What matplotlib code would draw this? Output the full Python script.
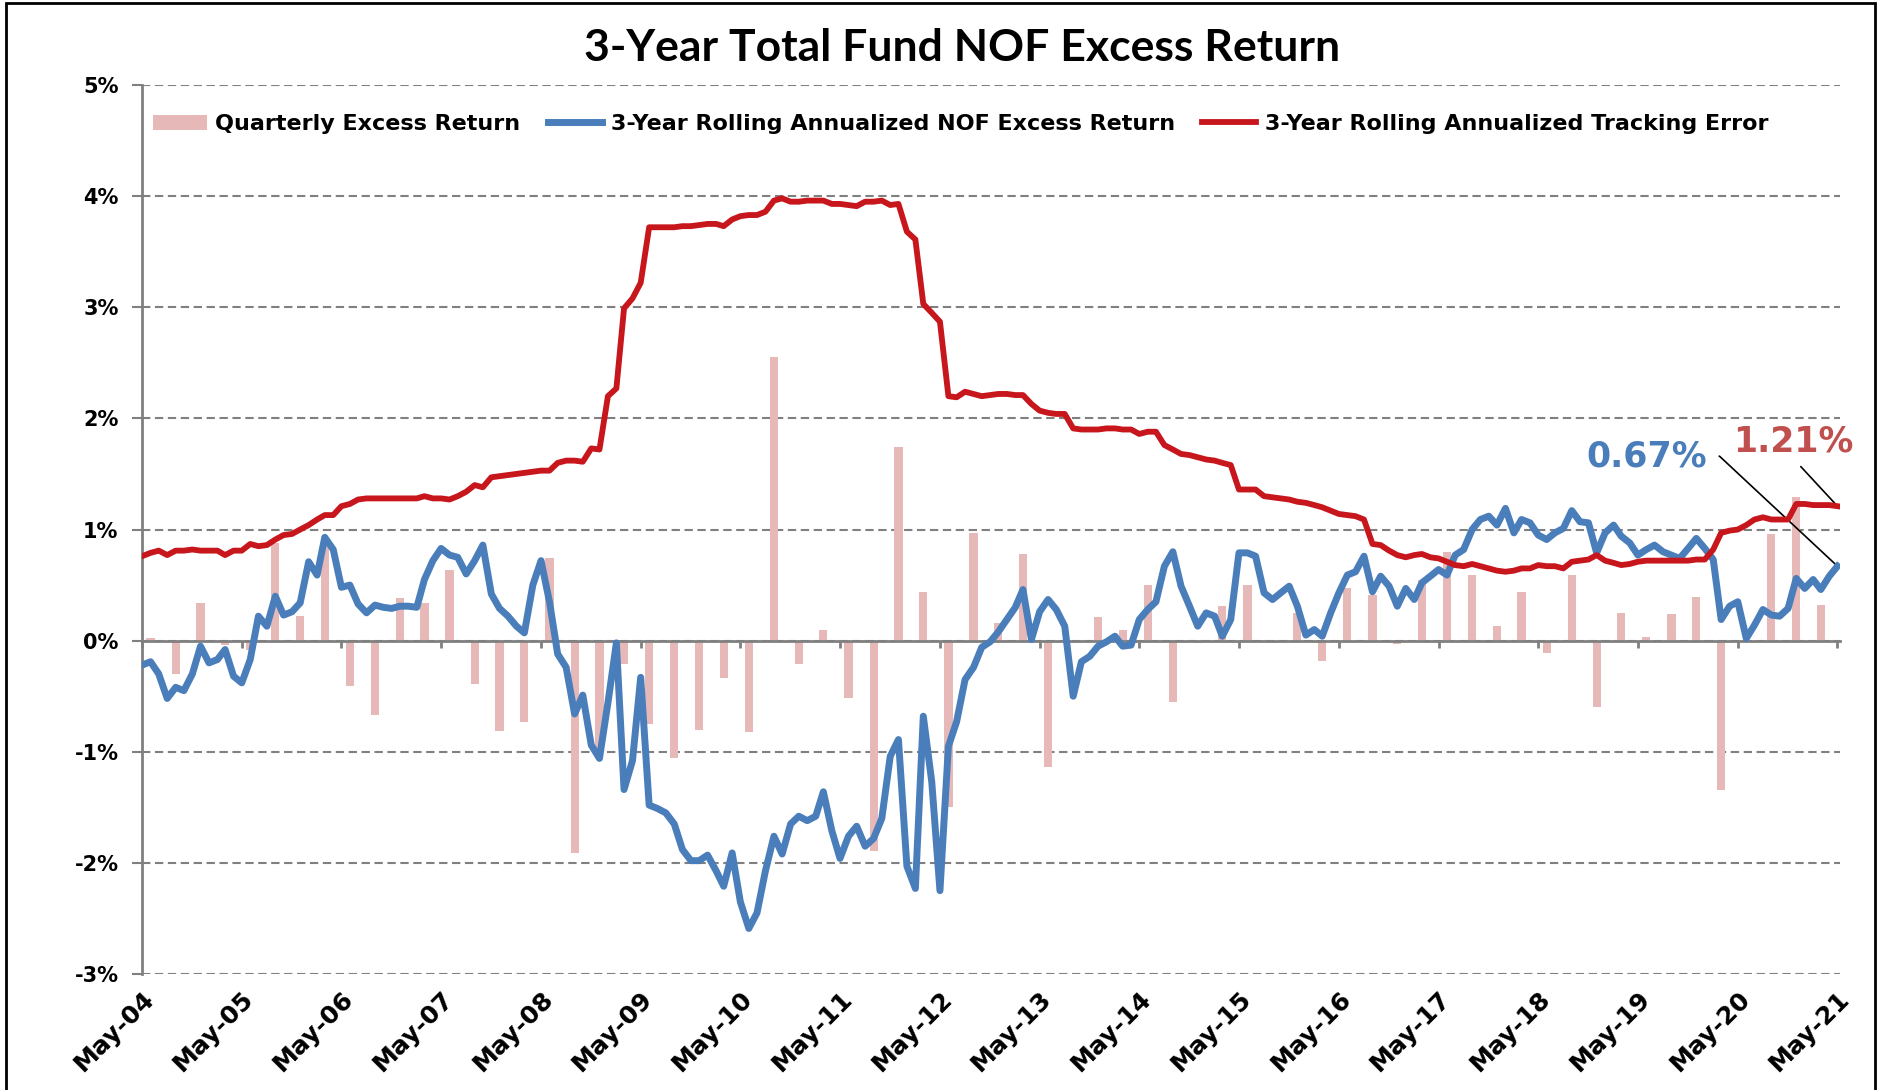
import matplotlib
matplotlib.use("Agg")
import matplotlib.pyplot as plt
from matplotlib.patches import Rectangle
import pandas as pd

# ---- data (percent), monthly May-04 .. May-21 ----
start_month = "2004-05-01"

rolling_excess = [
    -0.22, -0.19, -0.30, -0.52, -0.42, -0.45, -0.30, -0.05, -0.20, -0.17,
    -0.08, -0.32, -0.38, -0.17, 0.22, 0.13, 0.40, 0.23, 0.26, 0.34,
    0.71, 0.59, 0.93, 0.82, 0.48, 0.50, 0.33, 0.25, 0.32, 0.30,
    0.29, 0.31, 0.31, 0.30, 0.55, 0.72, 0.83, 0.77, 0.75, 0.60,
    0.72, 0.86, 0.42, 0.29, 0.22, 0.13, 0.07, 0.50, 0.72, 0.35,
    -0.12, -0.24, -0.66, -0.49, -0.94, -1.06, -0.56, -0.02, -1.34, -1.08,
    -0.33, -1.48, -1.51, -1.55, -1.65, -1.88, -1.98, -1.98, -1.93, -2.07,
    -2.21, -1.91, -2.35, -2.59, -2.45, -2.07, -1.76, -1.92, -1.65, -1.58,
    -1.62, -1.58, -1.36, -1.71, -1.96, -1.76, -1.67, -1.85, -1.78, -1.60,
    -1.04, -0.89, -2.03, -2.23, -0.68, -1.27, -2.25, -0.95, -0.73, -0.35,
    -0.24, -0.06, -0.01, 0.08, 0.19, 0.30, 0.46, 0.01, 0.26, 0.37,
    0.28, 0.13, -0.50, -0.19, -0.14, -0.05, -0.01, 0.04, -0.05, -0.04,
    0.19, 0.28, 0.35, 0.67, 0.80, 0.49, 0.31, 0.13, 0.25, 0.22,
    0.04, 0.19, 0.79, 0.79, 0.76, 0.43, 0.37, 0.43, 0.49, 0.31,
    0.05, 0.10, 0.04, 0.25, 0.43, 0.59, 0.62, 0.76, 0.44, 0.58,
    0.49, 0.31, 0.47, 0.37, 0.52, 0.58, 0.64, 0.59, 0.77, 0.82,
    1.00, 1.09, 1.12, 1.04, 1.19, 0.97, 1.09, 1.06, 0.95, 0.91,
    0.97, 1.01, 1.17, 1.07, 1.06, 0.79, 0.97, 1.04, 0.94, 0.88,
    0.77, 0.82, 0.86, 0.80, 0.77, 0.74, 0.83, 0.92, 0.83, 0.73,
    0.19, 0.31, 0.35, 0.02, 0.14, 0.28, 0.23, 0.22, 0.29, 0.56,
    0.47, 0.55, 0.46, 0.58, 0.67,
]

tracking_error = [
    0.76, 0.79, 0.81, 0.77, 0.81, 0.81, 0.82, 0.81, 0.81, 0.81,
    0.77, 0.81, 0.81, 0.87, 0.85, 0.86, 0.91, 0.95, 0.96, 1.00,
    1.04, 1.09, 1.13, 1.13, 1.21, 1.23, 1.27, 1.28, 1.28, 1.28,
    1.28, 1.28, 1.28, 1.28, 1.30, 1.28, 1.28, 1.27, 1.30, 1.34,
    1.40, 1.38, 1.47, 1.48, 1.49, 1.50, 1.51, 1.52, 1.53, 1.53,
    1.60, 1.62, 1.62, 1.61, 1.73, 1.72, 2.20, 2.27, 2.99, 3.08,
    3.22, 3.72, 3.72, 3.72, 3.72, 3.73, 3.73, 3.74, 3.75, 3.75,
    3.73, 3.79, 3.82, 3.83, 3.83, 3.86, 3.96, 3.98, 3.95, 3.95,
    3.96, 3.96, 3.96, 3.93, 3.93, 3.92, 3.91, 3.95, 3.95, 3.96,
    3.92, 3.93, 3.68, 3.61, 3.03, 2.95, 2.87, 2.20, 2.19, 2.24,
    2.22, 2.20, 2.21, 2.22, 2.22, 2.21, 2.21, 2.13, 2.07, 2.05,
    2.04, 2.04, 1.91, 1.90, 1.90, 1.90, 1.91, 1.91, 1.90, 1.90,
    1.86, 1.88, 1.88, 1.76, 1.72, 1.68, 1.67, 1.65, 1.63, 1.62,
    1.60, 1.58, 1.36, 1.36, 1.36, 1.30, 1.29, 1.28, 1.27, 1.25,
    1.24, 1.22, 1.20, 1.17, 1.14, 1.13, 1.12, 1.09, 0.87, 0.86,
    0.81, 0.77, 0.75, 0.77, 0.78, 0.75, 0.74, 0.71, 0.68, 0.67,
    0.69, 0.67, 0.65, 0.63, 0.62, 0.63, 0.65, 0.65, 0.68, 0.67,
    0.67, 0.65, 0.71, 0.72, 0.73, 0.77, 0.72, 0.70, 0.68, 0.69,
    0.71, 0.72, 0.72, 0.72, 0.72, 0.72, 0.72, 0.73, 0.73, 0.82,
    0.97, 0.99, 1.00, 1.04, 1.09, 1.11, 1.09, 1.09, 1.09, 1.23,
    1.23, 1.22, 1.22, 1.22, 1.21,
]

# quarter-end months (Jun-04 .. Mar-21)
quarterly_excess = [
    0.02, -0.30, 0.34, -0.04, -0.08, 0.88, 0.22, 0.85, -0.41, -0.67,
    0.38, 0.34, 0.64, -0.39, -0.81, -0.73, 0.74, -1.91, -1.00, -0.21,
    -0.75, -1.06, -0.80, -0.34, -0.82, 2.55, -0.21, 0.10, -0.52, -1.89,
    1.74, 0.44, -1.50, 0.97, 0.16, 0.78, -1.14, -0.02, 0.21, 0.10,
    0.50, -0.55, -0.02, 0.31, 0.50, -0.02, 0.25, -0.18, 0.47, 0.41,
    -0.03, 0.55, 0.80, 0.59, 0.13, 0.44, -0.11, 0.59, -0.60, 0.25,
    0.03, 0.24, 0.39, -1.34, 0.01, 0.96, 1.29, 0.32,
]

year_labels = ["May-04", "May-05", "May-06", "May-07", "May-08", "May-09",
               "May-10", "May-11", "May-12", "May-13", "May-14", "May-15",
               "May-16", "May-17", "May-18", "May-19", "May-20", "May-21"]
y_ticks = [-3, -2, -1, 0, 1, 2, 3, 4, 5]

# colours
c_bar = "#e6b9b8"
c_blue = "#4a7ebb"
c_red = "#c8161d"
c_red_txt = "#c0504d"
c_axis = "#808080"

months = pd.date_range(start_month, periods=len(rolling_excess), freq="MS")
quarters = months[1::3]
tick_dates = months[::12]

fig = plt.figure(figsize=(18.87, 10.9), dpi=100)
ax = fig.add_axes([0.0753, 0.1064, 0.8999, 0.8156])

bars = ax.bar(quarters, quarterly_excess, width=30, color=c_bar, zorder=2,
              label="Quarterly Excess Return")
l_blue, = ax.plot(months, rolling_excess, color=c_blue, lw=5.0, zorder=4,
                  solid_joinstyle="round",
                  label="3-Year Rolling Annualized NOF Excess Return")
l_red, = ax.plot(months, tracking_error, color=c_red, lw=4.2, zorder=5,
                 solid_joinstyle="round",
                 label="3-Year Rolling Annualized Tracking Error")

# y axis
ax.set_ylim(-3, 5)
ax.set_yticks(y_ticks)
ax.set_yticklabels([f"{t}%" for t in y_ticks])
ax.yaxis.grid(True, color=c_axis, lw=1.5, dashes=(4, 2.2), zorder=0)
ax.tick_params(axis="y", length=7, width=1.5, color=c_axis, pad=10,
               labelsize=15)
for lab in ax.get_yticklabels():
    lab.set_fontweight("bold")

# x axis: line at 0 with year ticks, labels at the bottom
ax.set_xlim(months[0], months[-1] + pd.Timedelta(days=10))
ax.spines["bottom"].set_position(("data", 0))
ax.spines["bottom"].set_color(c_axis)
ax.spines["bottom"].set_linewidth(2)
ax.spines["bottom"].set_zorder(3)
ax.set_xticks(tick_dates)
ax.tick_params(axis="x", direction="out", length=5, width=2, color=c_axis,
               labelbottom=False)
sec = ax.secondary_xaxis("bottom")
sec.set_xticks(tick_dates)
sec.set_xticklabels(year_labels)
sec.tick_params(length=0, pad=9)
sec.spines["bottom"].set_visible(False)
for lab in sec.get_xticklabels():
    lab.set_rotation(45)
    lab.set_ha("right")
    lab.set_rotation_mode("anchor")
    lab.set_fontweight("bold")
    lab.set_fontsize(18)

ax.spines["left"].set_color(c_axis)
ax.spines["left"].set_linewidth(2)
ax.spines["top"].set_visible(False)
ax.spines["right"].set_visible(False)

# legend
ax.legend([bars, l_blue, l_red],
          [bars.get_label(), l_blue.get_label(), l_red.get_label()],
          loc="center left", bbox_to_anchor=(0.0, 0.956), ncol=3,
          frameon=False, borderpad=0, handlelength=2.4, handletextpad=0.4,
          columnspacing=1.25, prop={"weight": "bold", "size": 16})

# title
fig.text(0.51, 0.956, "3-Year Total Fund NOF Excess Return", ha="center",
         va="center", fontsize=32, fontweight="bold", family="Lato")

# end-value callouts
ax.annotate(f"{rolling_excess[-1]:.2f}%", xy=(months[-1], rolling_excess[-1]),
            xytext=(months[181], 1.66), textcoords="data", ha="center",
            va="center", color=c_blue, fontsize=25, fontweight="bold",
            arrowprops=dict(arrowstyle="-", color="black", lw=1.2,
                            relpos=(1, 0.5), shrinkA=7, shrinkB=0,
                            connectionstyle="angle,angleA=0,angleB=-43,rad=0"))
ax.annotate(f"{tracking_error[-1]:.2f}%", xy=(months[-1], tracking_error[-1]),
            xytext=(months[198] + pd.Timedelta(days=20), 1.79),
            textcoords="data", ha="center", va="center", color=c_red_txt,
            fontsize=25, fontweight="bold",
            arrowprops=dict(arrowstyle="-", color="black", lw=1.2,
                            relpos=(0.5, 0), shrinkA=5, shrinkB=0))

# outer frame
fig.patches.append(Rectangle((0.003, -0.01), 0.9905, 1.007,
                             transform=fig.transFigure,
                             fill=False, ec="black", lw=2))

fig.savefig("out.png", dpi=100, facecolor="white")
